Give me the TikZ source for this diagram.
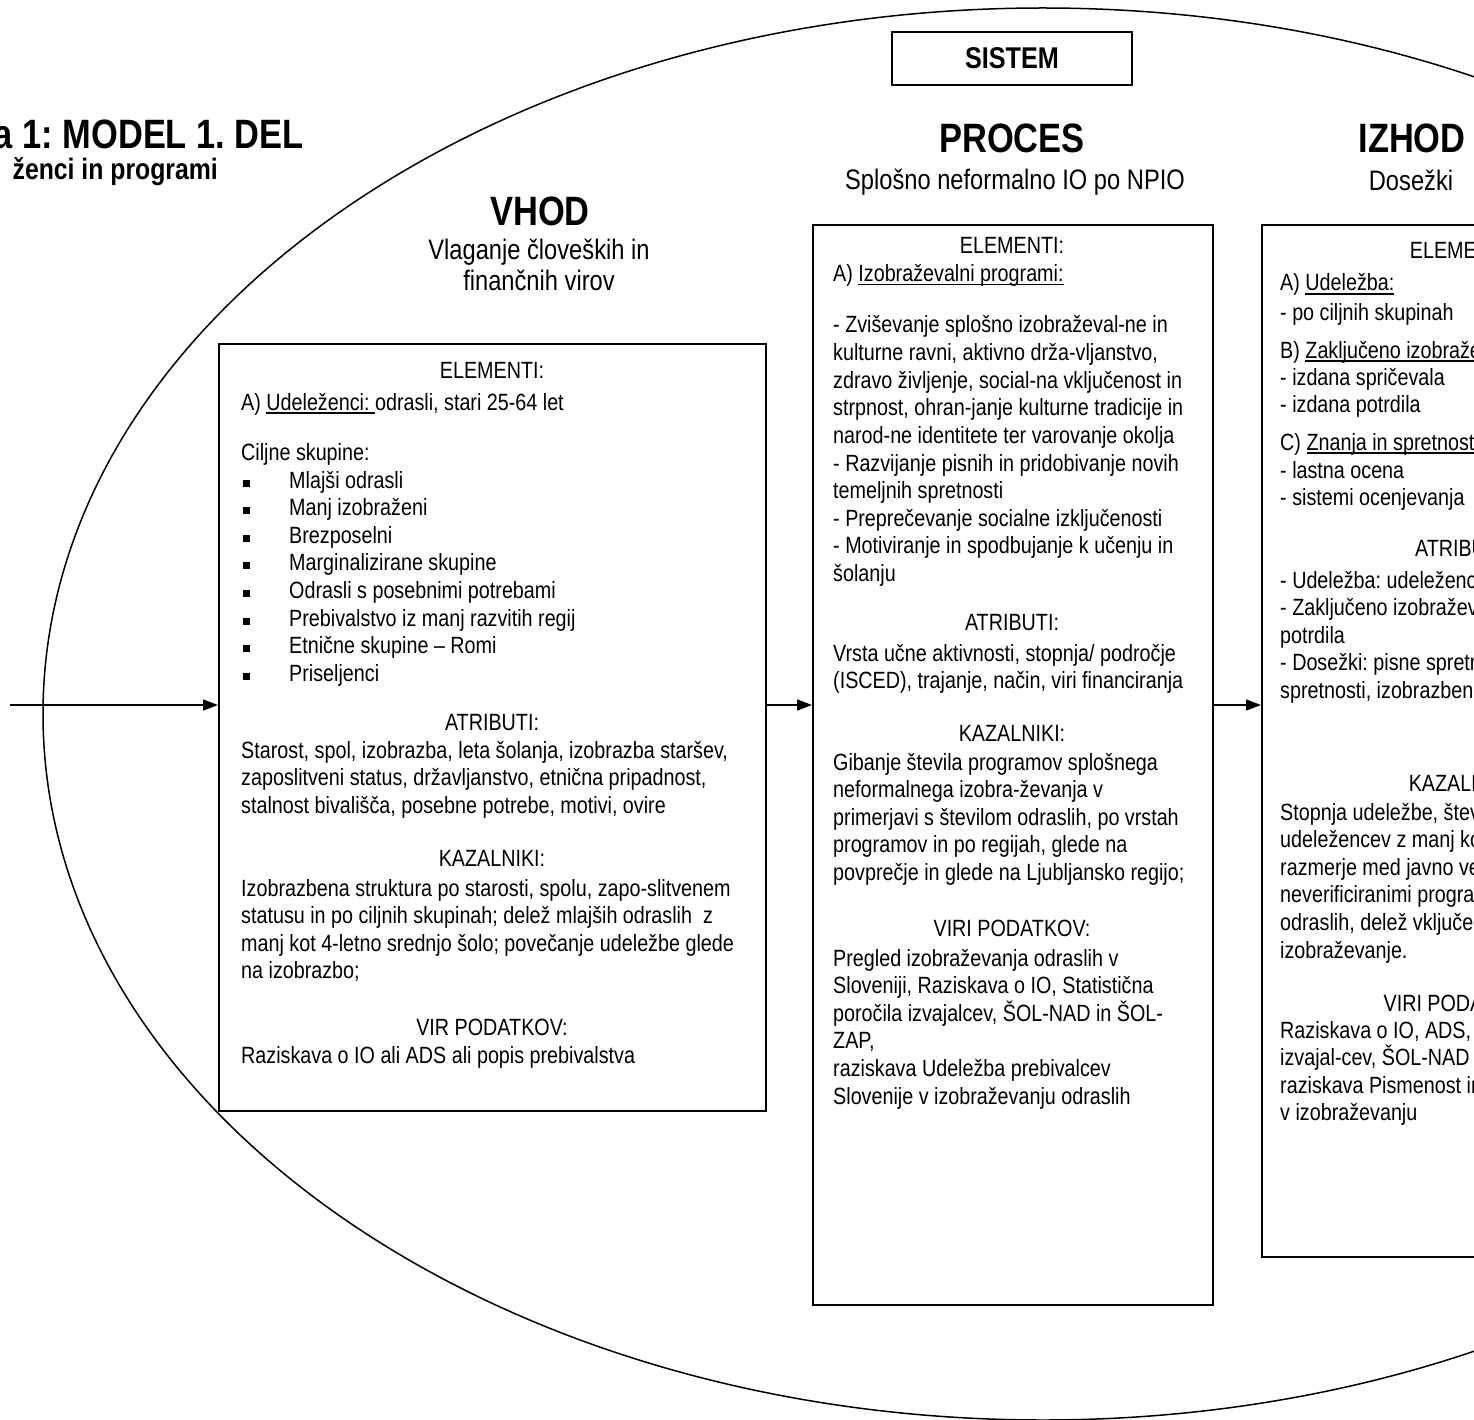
\documentclass[tikz,border=0pt]{standalone}
\usepackage{fontspec}
\setmainfont{Liberation Sans}[FakeStretch=0.84]
\usetikzlibrary{arrows.meta}
\frenchspacing
\newsavebox\ulbox
\newcommand\ulx[1]{\sbox\ulbox{#1}\rlap{\rule[-3.5pt]{\wd\ulbox}{1.4pt}}\usebox\ulbox}
\newcommand\Tl[4][txt]{\node[#1] (#2) at (#3) {#4};}
\newcommand\bul{\makebox[46pt][l]{\rule[1.5pt]{7pt}{7pt}}}
\begin{document}
\begin{tikzpicture}[x=1pt,y=-1pt,
  txt/.style={anchor=base west, inner sep=0pt, font=\fontsize{23.5}{27.7}\selectfont},
  ctxt/.style={txt, anchor=base},
  head/.style={anchor=base, inner sep=0pt, font=\bfseries\fontsize{41}{45}\selectfont},
  subt/.style={anchor=base, inner sep=0pt, font=\fontsize{28.2}{30}\selectfont},
  frame/.style={draw, line width=2pt, anchor=north west, inner sep=0pt},
  conn/.style={-{Triangle[length=15pt,width=11pt]}, line width=1.5pt},
  oval/.style={line width=1.5pt}]
\useasboundingbox (0,0) rectangle (1474,1420);
\clip (0,0) rectangle (1474,1420);
\fill[white] (0,0) rectangle (1474,1420);

% system ellipse
\draw[oval] (1043,714) ellipse [x radius=1000pt, y radius=706pt];

% title
\node[anchor=base east, inner sep=0pt, font=\bfseries\fontsize{41}{45}\selectfont] (title) at (304,149) {a 1: MODEL 1. DEL};
\node[anchor=base east, inner sep=0pt, font=\bfseries\fontsize{29.5}{31}\selectfont] (subtitle) at (218,180) {ženci in programi};

% SISTEM
\node[draw, line width=2pt, minimum width=240pt, minimum height=53pt, inner sep=0pt, font=\bfseries\fontsize{30}{32}\selectfont] (sistem) at (1012,58.5) {SISTEM};

% headings
\node[head] (vhod) at (540,226) {VHOD};
\node[subt] (vhod1) at (539,260) {Vlaganje človeških in};
\node[subt] (vhod2) at (539,291) {finančnih virov};
\node[head] (proces) at (1012,153) {PROCES};
\node[subt] (proces1) at (1015,190) {Splošno neformalno IO po NPIO};
\node[head] (izhod) at (1412,153) {IZHOD};
\node[subt] (izhod1) at (1411,191) {Dosežki};

% boxes
\node[frame, minimum width=547pt, minimum height=767pt] (vbox) at (218,343) {};
\node[frame, minimum width=400pt, minimum height=1080pt] (pbox) at (812,224) {};
\node[frame, minimum width=402pt, minimum height=1032pt] (zbox) at (1261,224) {};

% connectors
\coordinate (src) at (10,705);
\draw[conn] (src) -- (src -| vbox.west);
\draw[conn] (vbox.east |- src) -- (pbox.west |- src);
\draw[conn] (pbox.east |- src) -- (zbox.west |- src);

% VHOD box text
\Tl[ctxt]{v1}{492,378}{ELEMENTI:}
\Tl{v2}{241,410}{A) \ulx{Udeleženci:\ }odrasli, stari 25-64 let}
\Tl{v3}{241,460}{Ciljne skupine:}
\Tl{b1}{243,488}{\bul Mlajši odrasli}
\Tl{b2}{243,515.6}{\bul Manj izobraženi}
\Tl{b3}{243,543.2}{\bul Brezposelni}
\Tl{b4}{243,570.8}{\bul Marginalizirane skupine}
\Tl{b5}{243,598.4}{\bul Odrasli s posebnimi potrebami}
\Tl{b6}{243,626}{\bul Prebivalstvo iz manj razvitih regij}
\Tl{b7}{243,653.6}{\bul Etnične skupine – Romi}
\Tl{b8}{243,681.2}{\bul Priseljenci}
\Tl[ctxt]{v4}{492,730}{ATRIBUTI:}
\Tl{v5}{241,758}{Starost, spol, izobrazba, leta šolanja, izobrazba staršev,}
\Tl{v6}{241,785.6}{zaposlitveni status, državljanstvo, etnična pripadnost,}
\Tl{v7}{241,813.2}{stalnost bivališča, posebne potrebe, motivi, ovire}
\Tl[ctxt]{v8}{492,866}{KAZALNIKI:}
\Tl{v9}{241,896}{Izobrazbena struktura po starosti, spolu, zapo-slitvenem}
\Tl{v10}{241,923.6}{statusu in po ciljnih skupinah; delež mlajših odraslih \ z}
\Tl{v11}{241,951.2}{manj kot 4-letno srednjo šolo; povečanje udeležbe glede}
\Tl{v12}{241,978.8}{na izobrazbo;}
\Tl[ctxt]{v13}{492,1035}{VIR PODATKOV:}
\Tl{v14}{241,1063}{Raziskava o IO ali ADS ali popis prebivalstva}

% PROCES box text
\Tl[ctxt]{p1}{1012,254}{ELEMENTI:}
\Tl{p2}{833,282}{A) \ulx{Izobraževalni programi:}}
\Tl{p3}{833,333}{- Zviševanje splošno izobraževal-ne in}
\Tl{p4}{833,360.6}{kulturne ravni, aktivno drža-vljanstvo,}
\Tl{p5}{833,388.2}{zdravo življenje, social-na vključenost in}
\Tl{p6}{833,415.8}{strpnost, ohran-janje kulturne tradicije in}
\Tl{p7}{833,443.4}{narod-ne identitete ter varovanje okolja}
\Tl{p8}{833,471}{- Razvijanje pisnih in pridobivanje novih}
\Tl{p9}{833,498.6}{temeljnih spretnosti}
\Tl{p10}{833,526.2}{- Preprečevanje socialne izključenosti}
\Tl{p11}{833,553.8}{- Motiviranje in spodbujanje k učenju in}
\Tl{p12}{833,581.4}{šolanju}
\Tl[ctxt]{p13}{1012,630}{ATRIBUTI:}
\Tl{p14}{833,661}{Vrsta učne aktivnosti, stopnja/ področje}
\Tl{p15}{833,688.6}{(ISCED), trajanje, način, viri financiranja}
\Tl[ctxt]{p16}{1012,741}{KAZALNIKI:}
\Tl{p17}{833,770}{Gibanje števila programov splošnega}
\Tl{p18}{833,797.6}{neformalnega izobra-ževanja v}
\Tl{p19}{833,825.2}{primerjavi s številom odraslih, po vrstah}
\Tl{p20}{833,852.8}{programov in po regijah, glede na}
\Tl{p21}{833,880.4}{povprečje in glede na Ljubljansko regijo;}
\Tl[ctxt]{p22}{1012,936}{VIRI PODATKOV:}
\Tl{p23}{833,966}{Pregled izobraževanja odraslih v}
\Tl{p24}{833,993.6}{Sloveniji, Raziskava o IO, Statistična}
\Tl{p25}{833,1021.2}{poročila izvajalcev, ŠOL-NAD in ŠOL-}
\Tl{p26}{833,1048.8}{ZAP,}
\Tl{p27}{833,1076.4}{raziskava Udeležba prebivalcev}
\Tl{p28}{833,1104}{Slovenije v izobraževanju odraslih}

% IZHOD box text
\Tl[ctxt]{z1}{1462,259}{ELEMENTI:}
\Tl{z2}{1280,291}{A) \ulx{Udeležba:}}
\Tl{z3}{1280,321}{- po ciljnih skupinah}
\Tl{z4}{1280,358}{B) \ulx{Zaključeno izobraževanje:}}
\Tl{z5}{1280,385}{- izdana spričevala}
\Tl{z6}{1280,412}{- izdana potrdila}
\Tl{z7}{1280,450}{C) \ulx{Znanja in spretnosti:}}
\Tl{z8}{1280,478}{- lastna ocena}
\Tl{z9}{1280,505}{- sistemi ocenjevanja}
\Tl[ctxt]{z10}{1462,556}{ATRIBUTI:}
\Tl{z11}{1280,588}{- Udeležba: udeleženc}
\Tl{z12}{1280,615.6}{- Zaključeno izobražev}
\Tl{z13}{1280,643.2}{potrdila}
\Tl{z14}{1280,670.8}{- Dosežki: pisne spretn}
\Tl{z15}{1280,698.4}{spretnosti, izobrazbena}
\Tl[ctxt]{z16}{1462,791}{KAZALNIKI:}
\Tl{z17}{1280,820}{Stopnja udeležbe, štev}
\Tl{z18}{1280,847.6}{udeležencev z manj ko}
\Tl{z19}{1280,875.2}{razmerje med javno ve}
\Tl{z20}{1280,902.8}{neverificiranimi progra}
\Tl{z21}{1280,930.4}{odraslih, delež vključe}
\Tl{z22}{1280,958}{izobraževanje.}
\Tl[ctxt]{z23}{1462,1011}{VIRI PODATKOV:}
\Tl{z24}{1280,1038}{Raziskava o IO, ADS,}
\Tl{z25}{1280,1065.6}{izvajal-cev, ŠOL-NAD}
\Tl{z26}{1280,1093.2}{raziskava Pismenost in}
\Tl{z27}{1280,1120.8}{v izobraževanju}
\end{tikzpicture}
\end{document}
